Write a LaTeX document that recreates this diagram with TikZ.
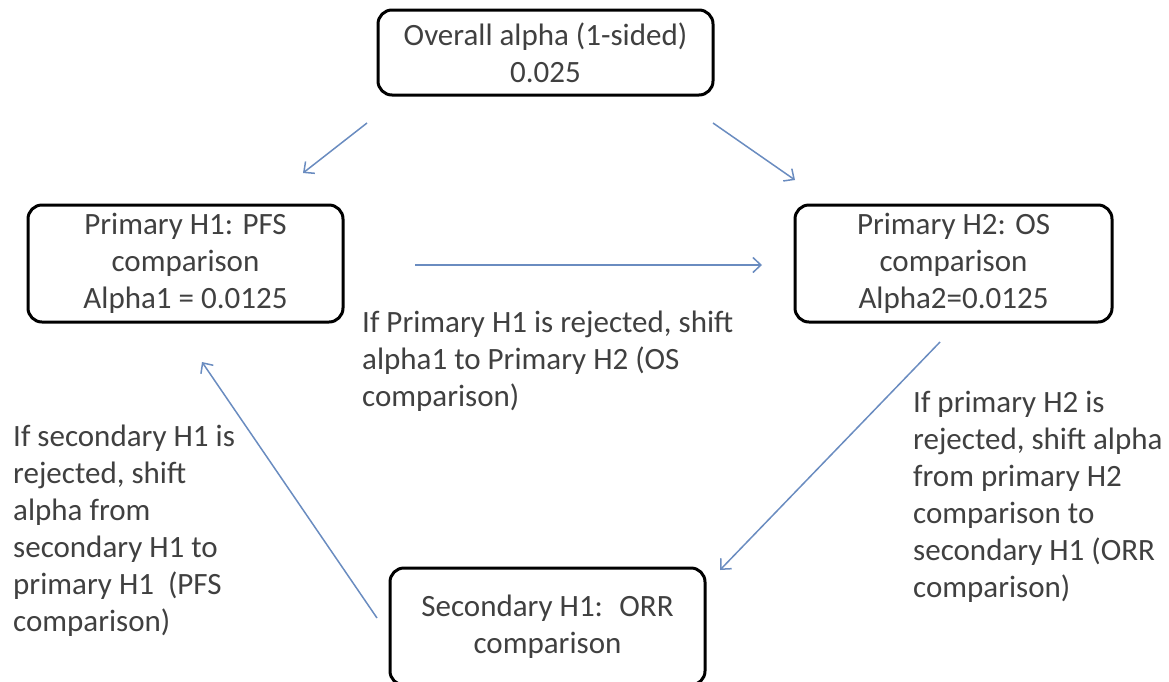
\documentclass[tikz,border=0pt]{standalone}
\usepackage{fontspec}
\setmainfont{Carlito}
\usepackage{tikz}
\usetikzlibrary{positioning}
\usetikzlibrary{arrows,arrows.meta}
\definecolor{shiftblue}{HTML}{6A8CC0}
\definecolor{textgray}{HTML}{404040}
\tikzset{every node/.style={font=\fontsize{31}{37}\selectfont}}
\tikzset{hypbox/.style={draw=black,line width=3pt,rounded corners=14pt,text=textgray,align=center,inner sep=0pt}}
\tikzset{shiftarrow/.style={-{Straight Barb[length=8pt,width=15pt]},draw=shiftblue,line width=1.5pt}}
\tikzset{note/.style={text=textgray,align=left,inner sep=0pt,anchor=north west}}

\begin{document}
\begin{tikzpicture}[x=1pt,y=-1pt]
\useasboundingbox (0,0) rectangle (1169,681);
\clip (0,0) rectangle (1169,681);
% hypotheses
\node[hypbox,minimum width=335pt,minimum height=85pt] (overall) at (545.5,52.5) {Overall alpha (1-sided)\\0.025};
\node[hypbox,minimum width=315pt,minimum height=117pt] (pfs) at (185.5,263.5) {Primary H1: PFS\\comparison\\Alpha1 = 0.0125};
\node[hypbox,minimum width=317pt,minimum height=117pt] (os) at (953.5,263.5) {Primary H2: OS\\comparison\\Alpha2=0.0125};
\node[hypbox,minimum width=315pt,minimum height=117pt] (orr) at (547.5,626.5) {Secondary H1: \ ORR\\comparison};
% rules
\node[note] (pfsrule) at (362,311) {If Primary H1 is rejected, shift\\alpha1 to Primary H2 (OS\\comparison)};
\node[note] (osrule) at (913,391) {If primary H2 is\\rejected, shift alpha\\from primary H2\\comparison to\\secondary H1 (ORR\\comparison)};
\node[note] (orrrule) at (13,425) {If secondary H1 is\\rejected, shift\\alpha from\\secondary H1 to\\primary H1 \ (PFS\\comparison)};
% arrow ends
\coordinate (splitl) at (367,123);
\coordinate (splitlend) at (303,173);
\coordinate (splitr) at (713,123);
\coordinate (splitrend) at (795,180);
\coordinate (pfsout) at (415,265);
\coordinate (osin) at (762,265);
\coordinate (osout) at (940,342);
\coordinate (orrin) at (720,570);
\coordinate (orrout) at (377,618);
\coordinate (pfsin) at (202,362);
\draw[shiftarrow] (splitl) -- (splitlend);
\draw[shiftarrow] (splitr) -- (splitrend);
\draw[shiftarrow] (pfsout) -- (osin);
\draw[shiftarrow] (osout) -- (orrin);
\draw[shiftarrow] (orrout) -- (pfsin);
\end{tikzpicture}
\end{document}
